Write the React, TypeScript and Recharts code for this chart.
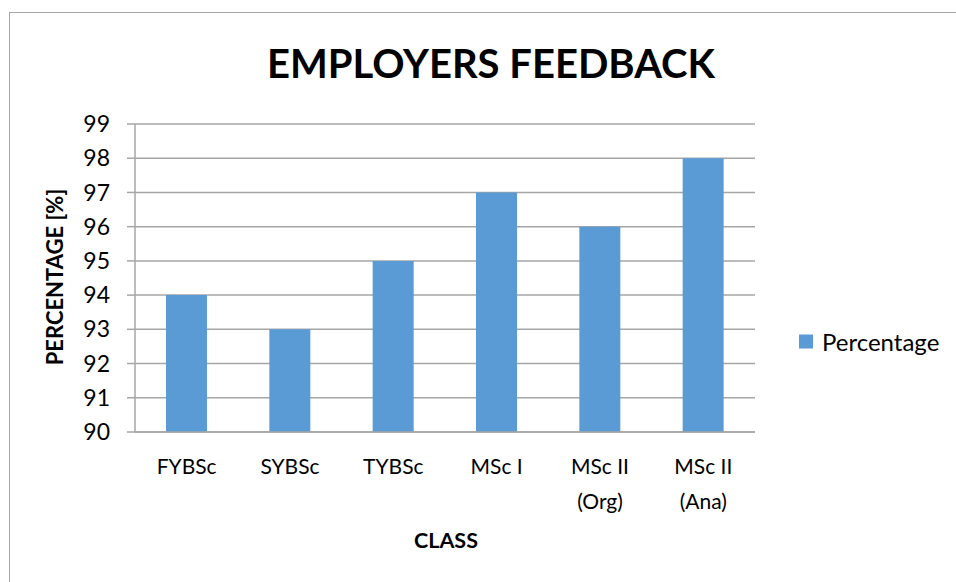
import { BarChart, Bar, XAxis, YAxis, CartesianGrid } from 'recharts';

const classes = ['FYBSc', 'SYBSc', 'TYBSc', 'MSc I', 'MSc II (Org)', 'MSc II (Ana)'];
const percentage = [94, 93, 95, 97, 96, 98];
const yTicks = [90, 91, 92, 93, 94, 95, 96, 97, 98, 99];

const data = classes.map((c, i) => ({ name: c, Percentage: percentage[i] }));

const FONT = 'Lato, "Open Sans", sans-serif';
const BLUE = '#5b9bd5';
const GRID = '#a6a6a6';

// splits "MSc II (Org)" into two lines like the original
function ClassTick(props: any) {
  const { x, y, payload } = props;
  const text: string = payload.value;
  const idx = text.indexOf(' (');
  const lines = idx > 0 ? [text.slice(0, idx), text.slice(idx + 1)] : [text];
  return (
    <text x={x} y={y} textAnchor="middle" fill="#000" fontSize={21} fontFamily={FONT}>
      {lines.map((l, i) => (
        <tspan key={i} x={x} dy={i === 0 ? 34 : 35}>
          {l}
        </tspan>
      ))}
    </text>
  );
}

export default function App() {
  return (
    <div style={{ position: 'absolute', left: 0, top: 0, width: 956, height: 582, background: '#fff', overflow: 'hidden', fontFamily: FONT }}>
      <div style={{ position: 'absolute', left: 9, top: 12, width: 980, height: 600, border: '1px solid #a6a6a6' }} />
      <div style={{ position: 'absolute', left: 0, top: 39, width: 982, textAlign: 'center', fontSize: 40, lineHeight: 'normal', fontWeight: 'bold', color: '#000' }}>
        EMPLOYERS FEEDBACK
      </div>
      <div style={{ position: 'absolute', left: 54, top: 277, transform: 'translate(-50%, -50%) rotate(-90deg)', whiteSpace: 'nowrap', fontSize: 22, fontWeight: 'bold', color: '#000' }}>
        PERCENTAGE [%]
      </div>
      <div style={{ position: 'absolute', left: 446, top: 540, transform: 'translate(-50%, -50%)', fontSize: 21.5, fontWeight: 'bold', color: '#000' }}>
        CLASS
      </div>
      <div style={{ position: 'absolute', left: 799, top: 341, transform: 'translateY(-50%)', display: 'flex', alignItems: 'center', fontSize: 24, color: '#000' }}>
        <span style={{ display: 'inline-block', width: 14, height: 14, background: BLUE, marginRight: 9 }} />
        Percentage
      </div>
      <div style={{ position: 'absolute', left: 0, top: 0 }}>
        <BarChart width={956} height={582} data={data} margin={{ top: 124, left: 75, right: 201, bottom: 90 }}>
          <CartesianGrid vertical={false} stroke={GRID} strokeWidth={1.5} />
          <XAxis dataKey="name" height={60} axisLine={{ stroke: GRID, strokeWidth: 1.5 }} tickLine={false} tick={<ClassTick />} interval={0} />
          <YAxis
            width={60}
            domain={[90, 99]}
            ticks={yTicks}
            interval={0}
            axisLine={{ stroke: GRID, strokeWidth: 1.5 }}
            tickLine={{ stroke: GRID, strokeWidth: 1.5 }}
            tickSize={8}
            tick={{ fill: '#000', fontSize: 23, fontFamily: FONT }}
            tickMargin={17}
          />
          <Bar dataKey="Percentage" fill={BLUE} barSize={41} isAnimationActive={false} />
        </BarChart>
      </div>
    </div>
  );
}
